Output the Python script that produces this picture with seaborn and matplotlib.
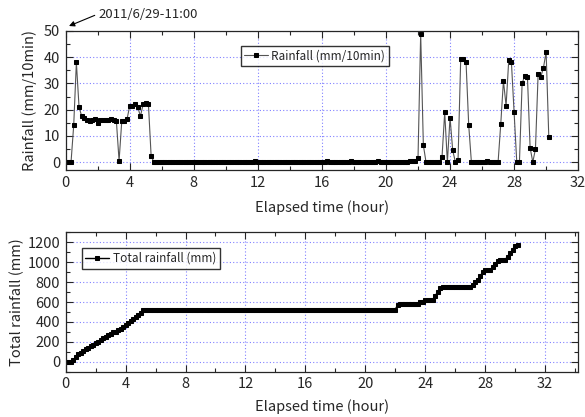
import numpy as np
import matplotlib
matplotlib.use('Agg')
import matplotlib.pyplot as plt
from matplotlib.ticker import MultipleLocator
import seaborn as sns

# 10-minute rainfall record starting 2011/6/29 11:00
rain_start = [0, 0, 0, 14, 38, 21,
              17.5, 17, 16, 15.5, 16, 16.5, 15, 16, 16, 16, 16, 16.5, 16, 15.5,
              0.5, 15.5, 15.5, 16.5,
              21.5, 21.5, 22, 21, 17.5, 22, 22.5, 22,
              2.5]
rain_quiet1 = [0] * 38 + [0.5] + [0] * 24
rain_quiet2 = [0, 0, 0.5, 0, 0, 0, 0, 0, 0, 0, 0, 0.5, 0, 0, 0, 0, 0, 0,
               0, 0, 0, 0.5, 0, 0, 0, 0, 0, 0, 0, 0, 0, 0, 0, 0.5, 0.5, 0.5]
rain_end = [1.5, 49, 6.5, 0, 0, 0, 0, 0, 0, 2, 19, 0, 17, 4.5, 0, 1,
            39.5, 39.5, 38, 14,
            0, 0, 0, 0, 0, 0, 0.5, 0, 0, 0, 0,
            14.5, 31, 21.5, 39, 38, 19, 0, 0, 30, 33, 32.5, 5.5, 0, 5,
            33.5, 32.5, 36, 42, 9.5]

rain = np.array(rain_start + rain_quiet1 + rain_quiet2 + rain_end, dtype=float)
hours = np.arange(len(rain)) / 6.0
total = np.cumsum(rain)

sns.set_style('ticks')
plt.rcParams['font.family'] = ['Noto Sans CJK JP', 'DejaVu Sans']
plt.rcParams['font.size'] = 10.5

fig = plt.figure(figsize=(5.85, 4.17), dpi=100)
ax1 = fig.add_axes([0.1123, 0.5923, 0.876, 0.3334])
ax2 = fig.add_axes([0.1123, 0.1086, 0.8757, 0.3343])

grid_kw = dict(color='#8080ff', linestyle=(0, (1, 2)), linewidth=0.8)

sns.lineplot(x=hours, y=rain, ax=ax1, color='#555555', linewidth=0.8,
             marker='s', markersize=3, markerfacecolor='black',
             markeredgecolor='black', label='Rainfall (mm/10min)')
ax1.set_xlim(0, 32)
ax1.set_ylim(-3, 50)
ax1.xaxis.set_major_locator(MultipleLocator(4))
ax1.xaxis.set_minor_locator(MultipleLocator(2))
ax1.yaxis.set_major_locator(MultipleLocator(10))
ax1.yaxis.set_minor_locator(MultipleLocator(5))
ax1.set_xlabel('Elapsed time (hour)', labelpad=8)
ax1.set_ylabel('Rainfall (mm/10min)')
ax1.yaxis.set_label_coords(-0.056, 0.5)
ax1.legend(loc='center', bbox_to_anchor=(0.486, 0.82), fontsize=8.5,
           frameon=True, fancybox=False, edgecolor='black', handlelength=2,
           borderpad=0.3, handletextpad=0.3)

sns.lineplot(x=hours, y=total, ax=ax2, color='black', linewidth=1,
             marker='s', markersize=3.3, markerfacecolor='black',
             markeredgecolor='black', label='Total rainfall (mm)')
ax2.set_xlim(0, 34.2)
ax2.set_ylim(-100, 1300)
ax2.xaxis.set_major_locator(MultipleLocator(4))
ax2.xaxis.set_minor_locator(MultipleLocator(2))
ax2.yaxis.set_major_locator(MultipleLocator(200))
ax2.yaxis.set_minor_locator(MultipleLocator(100))
ax2.set_xlabel('Elapsed time (hour)', labelpad=6)
ax2.set_ylabel('Total rainfall (mm)')
ax2.yaxis.set_label_coords(-0.082, 0.5)
ax2.legend(loc='center', bbox_to_anchor=(0.166, 0.812), fontsize=8.5,
           frameon=True, fancybox=False, edgecolor='black', handlelength=2,
           borderpad=0.3, handletextpad=0.3)

for ax in (ax1, ax2):
    ax.grid(True, which='major', **grid_kw)
    ax.tick_params(which='both', direction='in', top=True, right=True,
                   labelsize=10.5, width=0.8, pad=4)
    ax.tick_params(which='major', length=5)
    ax.tick_params(which='minor', length=3)
    for s in ax.spines.values():
        s.set_linewidth(0.9)

ax1.annotate('2011/6/29-11:00', xy=(69, 391), xycoords='figure pixels',
             xytext=(98, 403), textcoords='figure pixels', fontsize=9.5,
             ha='left', va='center',
             arrowprops=dict(arrowstyle='-|>', color='black', lw=0.8,
                             shrinkA=0, shrinkB=0, relpos=(0, 0.5),
                             mutation_scale=8))

fig.savefig('out.png', dpi=100)
